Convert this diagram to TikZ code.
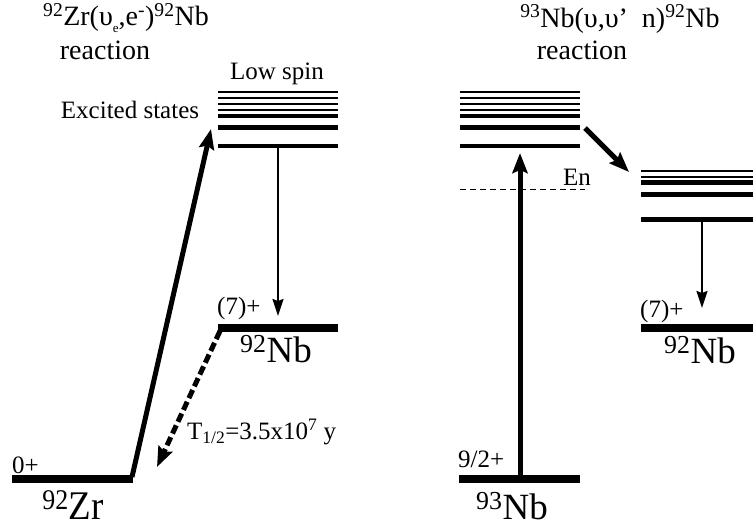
\documentclass[tikz,border=0pt]{standalone}
\usepackage{fontspec}
\setmainfont{Liberation Serif}
\usetikzlibrary{arrows.meta}
\begin{document}
\begin{tikzpicture}[x=1pt,y=-1pt,
  lvthin/.style={line width=1.8pt},
  lvthick/.style={line width=4.5pt},
  ground/.style={line width=8pt},
  lbl/.style={font=\fontsize{25}{27}\selectfont, inner sep=0pt},
  big/.style={font=\fontsize{37}{40}\selectfont, inner sep=0pt, anchor=base},
  ttl/.style={font=\fontsize{28}{30}\selectfont, inner sep=0pt},
  bigarrow/.style={line width=5pt, -{Stealth[length=20pt,width=15pt,inset=3pt]}},
  smallarrow/.style={line width=2pt, -{Stealth[length=17pt,width=11pt,inset=2pt]}},
  dasharrow/.style={line width=5pt, dash pattern=on 9pt off 4pt, -{Stealth[length=20pt,width=15pt,inset=3pt]}},
]
\useasboundingbox (0,0) rectangle (753,527);

% excited states, left
\foreach \y in {91.7,97.7,104.3,110} \draw[lvthin] (218,\y) -- (338,\y);
\foreach \y in {116,127.7} \draw[lvthick] (218,\y) -- (338,\y);
\draw[lvthick] (218,146) -- (338,146);
\coordinate (lexc) at (278,146);
% excited states, 93Nb
\foreach \y in {91.7,97.7,104.3,110} \draw[lvthin] (460,\y) -- (580,\y);
\draw[lvthick] (460,116) -- (580,116);
\draw[lvthick] (460,127.7) -- (580,127.7);
\draw[lvthick] (460,146) -- (580,146);
\coordinate (rexcB) at (520,153);
% excited states, 92Nb right
\foreach \y in {170.7,176.7} \draw[lvthin] (641,\y) -- (753,\y);
\foreach \y in {182.3,194.3} \draw[lvthick] (641,\y) -- (753,\y);
\draw[lvthick] (641,219.3) -- (753,219.3);
\coordinate (r2top) at (702,219);
\coordinate (r2in) at (629,172);
% En line
\draw[line width=1.4pt, dash pattern=on 6pt off 4pt] (460,189.3) -- (585,189.3);
\node[lbl, anchor=west] (en) at (563,177) {En};

% ground levels
\draw[ground] (12,479.3) -- (133,479.3);
\coordinate (zrE) at (132,477);
\draw[ground] (218,327.7) -- (338,327.7);
\coordinate (nbLW) at (220,331);
\coordinate (nbLT) at (278,316);
\draw[ground] (459,479.3) -- (580,479.3);
\coordinate (nb93) at (520,479);
\draw[ground] (641,328) -- (753,328);
\coordinate (nbRT) at (702,308);

% arrows
\coordinate (lexcA) at (211,129);
\draw[bigarrow] (zrE) -- (lexcA);
\draw[smallarrow] (lexc) -- (nbLT);
\coordinate (zrT) at (157,467);
\draw[dasharrow] (nbLW) -- (zrT);
\draw[bigarrow] (nb93) -- (rexcB);
\coordinate (rdS) at (585,128);
\draw[bigarrow] (rdS) -- (r2in);
\draw[smallarrow] (r2top) -- (nbRT);

% labels
\node[ttl] (t1) at (126,18) {\textsuperscript{92}Zr(υ\raisebox{-0.6ex}{\fontsize{13}{13}\selectfont e},e\textsuperscript{-})\textsuperscript{92}Nb};
\node[ttl] (t1b) at (105,50) {reaction};
\node[ttl] (t2) at (620,19) {\textsuperscript{93}Nb(υ,υ’\ \ n)\textsuperscript{92}Nb};
\node[ttl] (t2b) at (582,50) {reaction};
\node[lbl] (low) at (277,74) {Low spin};
\node[lbl] (exc) at (130,110) {Excited states};
\node[lbl, anchor=west] (s7l) at (217,308) {(7)+};
\node[lbl, anchor=west] (s0) at (12,465) {0+};
\node[lbl, anchor=west] (s92) at (458,459) {9/2+};
\node[lbl, anchor=west] (s7r) at (640,311) {(7)+};
\node[big] (nbl) at (276,362) {\textsuperscript{92}Nb};
\node[big] (zr) at (73,519) {\scalebox{1}[1.1]{\textsuperscript{92}Zr}};
\node[big] (nb93l) at (512,519) {\textsuperscript{93}Nb};
\node[big] (nbr) at (700,363) {\textsuperscript{92}Nb};
\node[lbl, anchor=west] (thalf) at (187,432) {T\textsubscript{1/2}=3.5x10\textsuperscript{7} y};
\end{tikzpicture}
\end{document}
